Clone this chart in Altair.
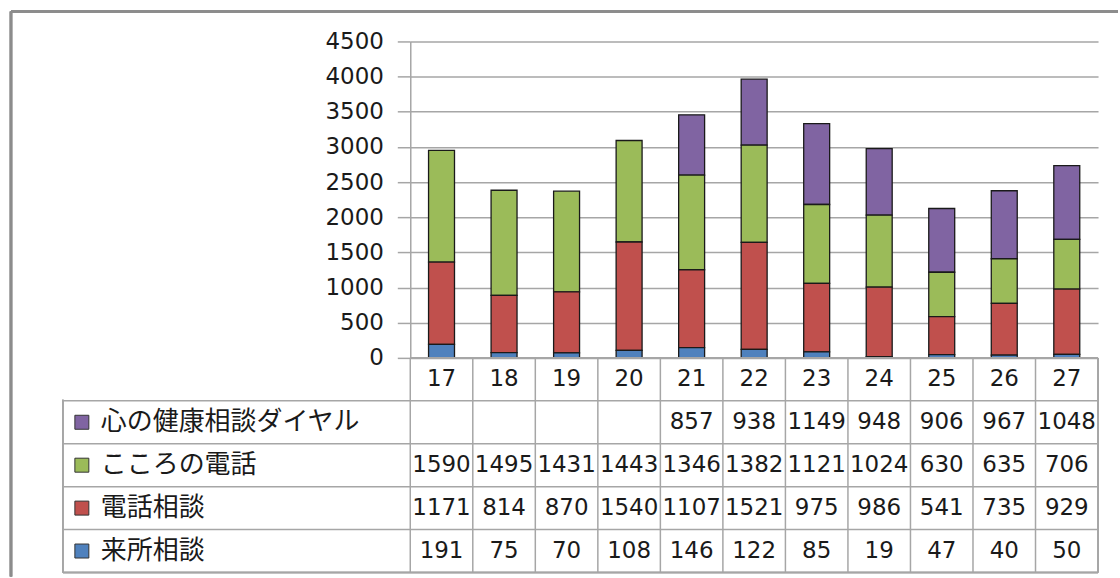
import altair as alt
import pandas as pd

years = ["17", "18", "19", "20", "21", "22", "23", "24", "25", "26", "27"]
series = ["心の健康相談ダイヤル", "こころの電話", "電話相談", "来所相談"]
dial = [None, None, None, None, 857, 938, 1149, 948, 906, 967, 1048]
kokoro = [1590, 1495, 1431, 1443, 1346, 1382, 1121, 1024, 630, 635, 706]
denwa = [1171, 814, 870, 1540, 1107, 1521, 975, 986, 541, 735, 929]
raisho = [191, 75, 70, 108, 146, 122, 85, 19, 47, 40, 50]
colors = ["#8064A2", "#9BBB59", "#C0504D", "#4F81BD"]
y_ticks = [0, 500, 1000, 1500, 2000, 2500, 3000, 3500, 4000, 4500]

values_by_series = {series[0]: dial, series[1]: kokoro, series[2]: denwa, series[3]: raisho}
stack_rank = {series[3]: 0, series[2]: 1, series[1]: 2, series[0]: 3}

recs = []
for s in series:
    for yr, v in zip(years, values_by_series[s]):
        if v is not None:
            recs.append({"year": yr, "series": s, "value": v, "rank": stack_rank[s], "row": s, "label": str(v)})
df = pd.DataFrame(recs)

header_row = "年度"
rows = [header_row] + series
df_header = pd.DataFrame({"year": years, "row": header_row, "label": years})
df_series = pd.DataFrame({"row": series, "series": series})
df_years = pd.DataFrame({"year": years})

W, H = 689, 532
GRID = "#a6a6a6"
TXT = "#1a1a1a"
NUMFONT = "DejaVu Sans"
JPFONT = "Noto Sans CJK JP"

xscale = alt.Scale(type="band", domain=years, paddingInner=0, paddingOuter=0)
xenc = alt.X("year:N", scale=xscale, axis=None)

bars = alt.Chart(df).mark_bar(width=26, stroke="#1a1a1a", strokeWidth=1.3).encode(
    x=xenc,
    y=alt.Y("value:Q", stack="zero",
            scale=alt.Scale(domain=[0, 4500], range=[317, 0], nice=False, zero=True),
            axis=alt.Axis(values=y_ticks, title=None, grid=True, gridColor=GRID, gridWidth=1.5,
                          domainColor=GRID, domainWidth=1.5, tickColor=GRID, tickWidth=1.5,
                          tickSize=13, labelFont=NUMFONT, labelFontSize=23, labelColor=TXT,
                          labelPadding=14, format="d")),
    color=alt.Color("series:N", scale=alt.Scale(domain=series, range=colors), legend=None),
    order=alt.Order("rank:Q", sort="ascending"),
)

yscale_t = alt.Scale(type="band", domain=rows, range=[317, 532], paddingInner=0, paddingOuter=0)

def yt(**kw):
    return alt.Y("row:N", scale=yscale_t, axis=None, **kw)

cells = alt.Chart(df).mark_text(font=NUMFONT, fontSize=23, color=TXT).encode(
    x=xenc, y=yt(), text="label:N")
header = alt.Chart(df_header).mark_text(font=NUMFONT, fontSize=23, color=TXT).encode(
    x=xenc, y=yt(), text="label:N")

hlines = alt.Chart(df_series).mark_rule(color=GRID, strokeWidth=1.5).encode(
    y=yt(bandPosition=0), x=alt.value(-348), x2=alt.value(W))
hbottom = alt.Chart(df_series).mark_rule(color=GRID, strokeWidth=1.5).encode(
    y=alt.value(532), x=alt.value(-348), x2=alt.value(W))
htop = alt.Chart(df_series).mark_rule(color=GRID, strokeWidth=1.5).encode(
    y=alt.value(317), x=alt.value(0), x2=alt.value(W))
vlines = alt.Chart(df_years).mark_rule(color=GRID, strokeWidth=1.5).encode(
    x=alt.X("year:N", scale=xscale, axis=None, bandPosition=0), y=alt.value(317), y2=alt.value(532))
vright = alt.Chart(df_series).mark_rule(color=GRID, strokeWidth=1.5).encode(
    x=alt.value(W), y=alt.value(317), y2=alt.value(532))
vleft = alt.Chart(df_series).mark_rule(color=GRID, strokeWidth=1.5).encode(
    x=alt.value(-348), y=alt.value(359), y2=alt.value(532))

squares = alt.Chart(df_series).mark_square(size=196, stroke="#333333", strokeWidth=1, opacity=1).encode(
    x=alt.value(-329), y=yt(),
    color=alt.Color("series:N", scale=alt.Scale(domain=series, range=colors), legend=None))
labels = alt.Chart(df_series).mark_text(align="left", font=JPFONT, fontSize=26, color=TXT).encode(
    x=alt.value(-310), y=yt(), text="row:N")

frame_l = alt.Chart(df_series).mark_rule(color="#8c8c8c", strokeWidth=2.5).encode(
    x=alt.value(-400), y=alt.value(-30), y2=alt.value(536))
frame_t = alt.Chart(df_series).mark_rule(color="#8c8c8c", strokeWidth=2.5).encode(
    y=alt.value(-30), x=alt.value(-400), x2=alt.value(709))

table = alt.layer(hlines, hbottom, htop, vlines, vright, vleft, cells, header, squares, labels,
                  frame_l, frame_t)

chart = alt.layer(bars, table).resolve_scale(y="independent").properties(
    width=W, height=H,
    padding={"left": 9, "top": 9, "right": 0, "bottom": 0},
).configure_view(stroke=None)

chart.save("out.html", embed_options={"renderer": "svg", "actions": False})
